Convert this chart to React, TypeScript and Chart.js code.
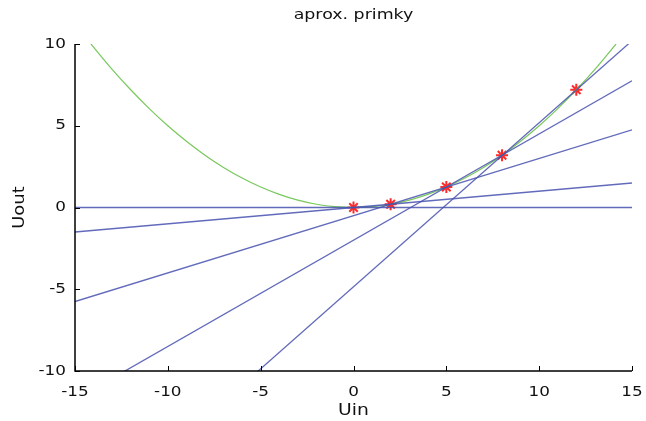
import React, { useEffect, useRef } from "react";
import { Chart, registerables } from "chart.js";
Chart.register(...registerables);

const parabolaX = [-14.14, -13, -12, -11, -10, -9, -8, -7, -6, -5, -4, -3, -2, -1, 0, 1, 2, 3, 4, 5, 6, 7, 8, 9, 10, 11, 12, 13, 14.14];
const parabolaY = [10, 8.45, 7.2, 6.05, 5, 4.05, 3.2, 2.45, 1.8, 1.25, 0.8, 0.45, 0.2, 0.05, 0, 0.05, 0.2, 0.45, 0.8, 1.25, 1.8, 2.45, 3.2, 4.05, 5, 6.05, 7.2, 8.45, 10];

const pointsX = [0, 2, 5, 8, 12];
const pointsY = [0, 0.2, 1.25, 3.2, 7.2];

// straight lines: [x0, y0] -> [x1, y1]
const lineX0 = [-15, -15, -15, -15, -15];
const lineY0 = [0, -1.5, -5.75, -11.75, -19.9];
const lineX1 = [15, 15, 15, 15, 15];
const lineY1 = [0, 1.5, 4.75, 7.75, 10.2];

const xTicks = [-15, -10, -5, 0, 5, 10, 15];
const yTicks = [-10, -5, 0, 5, 10];

const TITLE = "aprox. primky";
const XLABEL = "Uin";
const YLABEL = "Uout";

const FONT = "'DejaVu Sans', sans-serif";
const BLUE = "rgba(70,80,175,0.85)";
const GREEN = "#78c85c";
const RED = "#ff2a2a";

function drawText(ctx: CanvasRenderingContext2D, text: string, x: number, y: number, size: number, align: CanvasTextAlign, sx: number, rot = 0) {
  ctx.save();
  ctx.translate(x, y);
  if (rot) ctx.rotate(rot);
  ctx.scale(sx, 1);
  ctx.font = size + "px " + FONT;
  ctx.textAlign = align;
  ctx.textBaseline = "middle";
  ctx.fillStyle = "#111";
  ctx.fillText(text, 0, 0);
  ctx.restore();
}

export default function App() {
  const ref = useRef<HTMLCanvasElement | null>(null);
  useEffect(() => {
    if (!ref.current) return;
    const lineSets = lineX0.map((_, i) => ({
      type: "line" as const,
      data: [
        { x: lineX0[i], y: lineY0[i] },
        { x: lineX1[i], y: lineY1[i] },
      ],
      borderColor: BLUE,
      borderWidth: 1.3,
      pointRadius: 0,
      fill: false,
    }));
    const deco = {
      id: "deco",
      afterDraw(chart: any) {
        const ctx = chart.ctx;
        const xs = chart.scales.x;
        const ys = chart.scales.y;
        const a = chart.chartArea;
        ctx.save();
        ctx.strokeStyle = "#000";
        ctx.lineWidth = 1.5;
        ctx.beginPath();
        ctx.moveTo(a.left, a.top);
        ctx.lineTo(a.left, a.bottom);
        ctx.lineTo(a.right, a.bottom);
        ctx.stroke();
        ctx.lineWidth = 1;
        ctx.beginPath();
        xTicks.forEach((t) => {
          const px = Math.round(xs.getPixelForValue(t)) + 0.5;
          ctx.moveTo(px, a.bottom);
          ctx.lineTo(px, a.bottom - 5);
        });
        yTicks.forEach((t) => {
          const py = Math.round(ys.getPixelForValue(t)) + 0.5;
          ctx.moveTo(a.left, py);
          ctx.lineTo(a.left + 5, py);
        });
        ctx.stroke();
        ctx.restore();
        xTicks.forEach((t) => {
          drawText(ctx, String(t), xs.getPixelForValue(t), 392, 14, "center", 1.2);
        });
        yTicks.forEach((t) => {
          drawText(ctx, String(t), 66, ys.getPixelForValue(t), 14, "right", 1.2);
        });
        const cx = (a.left + a.right) / 2;
        drawText(ctx, TITLE, cx, 15, 14.5, "center", 1.2);
        drawText(ctx, XLABEL, cx, 411, 15, "center", 1.25);
        drawText(ctx, YLABEL, 20, (a.top + a.bottom) / 2, 15, "center", 1.2, -Math.PI / 2);
      },
    };
    const chart = new Chart(ref.current, {
      type: "scatter",
      data: {
        datasets: [
          ...lineSets,
          {
            type: "line" as const,
            data: parabolaX.map((x, i) => ({ x, y: parabolaY[i] })),
            borderColor: GREEN,
            borderWidth: 1.2,
            pointRadius: 0,
            cubicInterpolationMode: "monotone",
            fill: false,
          },
          {
            type: "scatter" as const,
            data: pointsX.map((x, i) => ({ x, y: pointsY[i] })),
            pointStyle: "star",
            pointRadius: 6,
            borderColor: RED,
            backgroundColor: RED,
            borderWidth: 2,
          },
        ] as any,
      },
      options: {
        animation: false,
        responsive: false,
        layout: { padding: { top: 44, right: 14, left: 75, bottom: 50 } },
        plugins: { legend: { display: false }, title: { display: false }, tooltip: { enabled: false } },
        scales: {
          x: { type: "linear", min: -15, max: 15, display: false },
          y: { type: "linear", min: -10, max: 10, display: false },
        },
      },
      plugins: [deco],
    });
    return () => chart.destroy();
  }, []);
  return (
    <div style={{ position: "fixed", left: 0, top: 0, width: 646, height: 421, background: "#fff" }}>
      <canvas ref={ref} width={646} height={421} style={{ width: 646, height: 421, display: "block" }} />
    </div>
  );
}
